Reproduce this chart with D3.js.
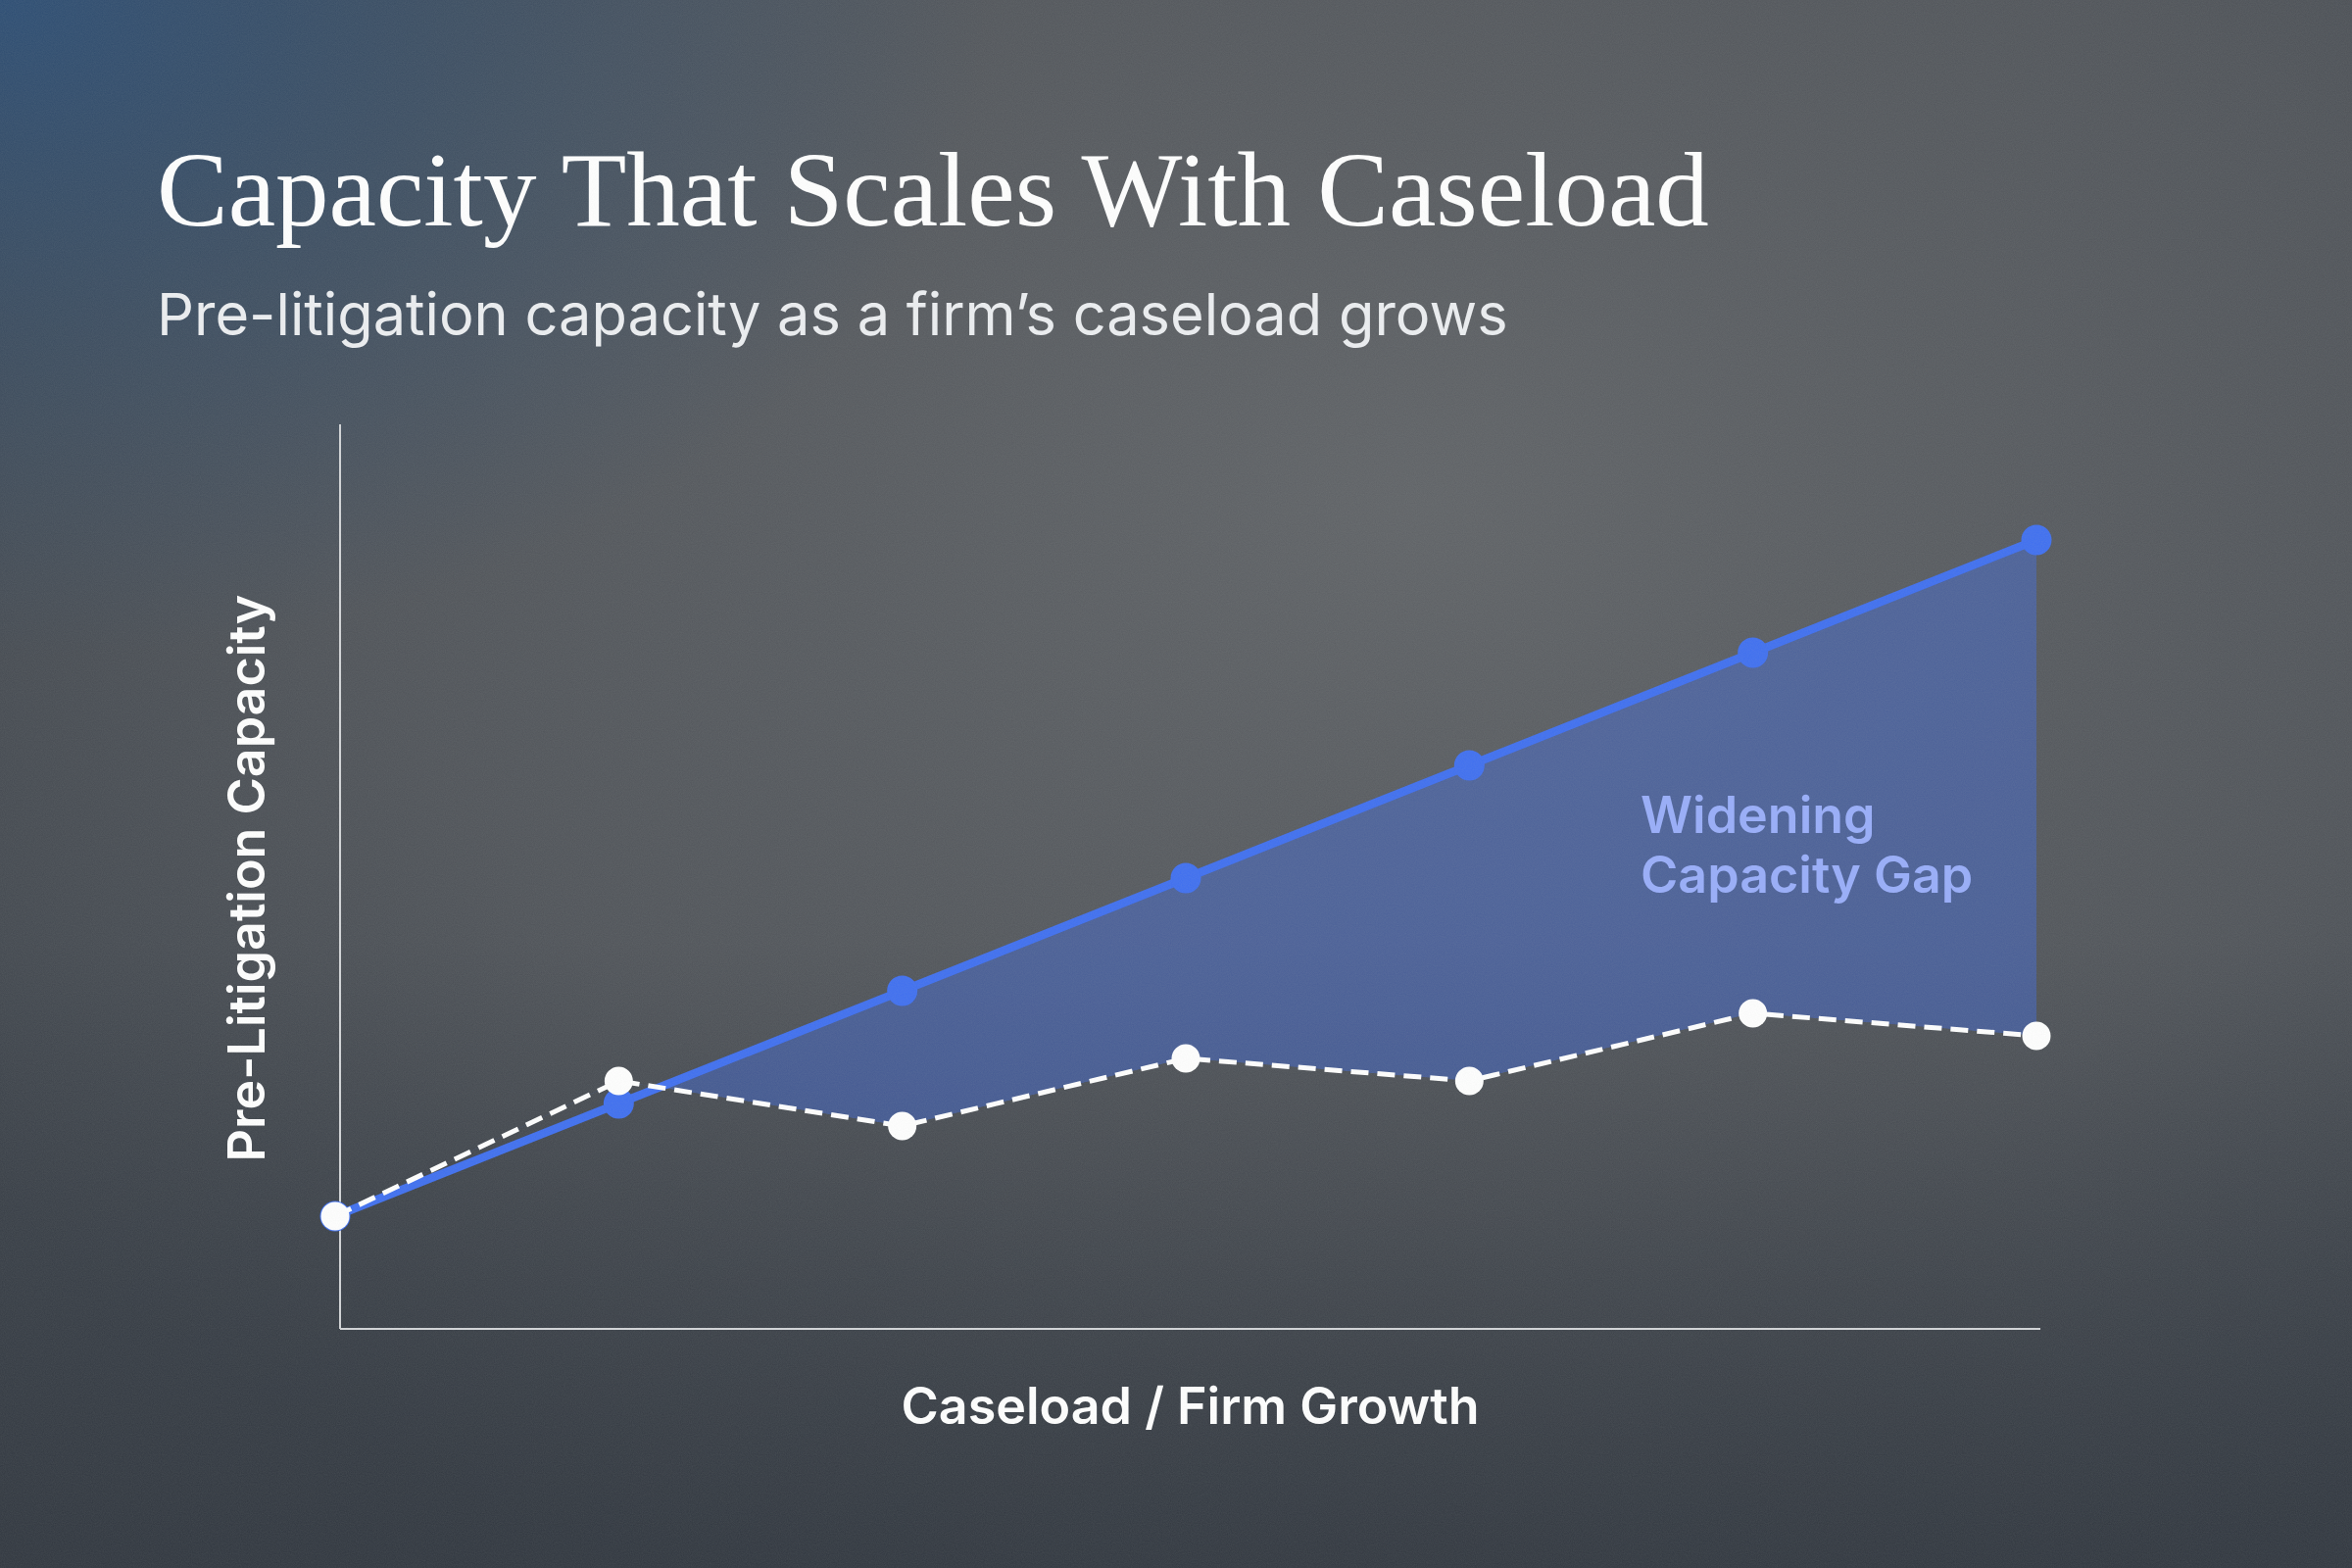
<!DOCTYPE html>
<html>
<head>
<meta charset="utf-8">
<script src="https://cdn.jsdelivr.net/npm/d3@7"></script>
<style>
  body { margin:0; background:#3a414b; }
  svg { display:block; }
</style>
</head>
<body>
<script>
// data (capacity in arbitrary units)
const growthStages = [0, 1, 2, 3, 4, 5, 6];
const scaledCapacity = [10, 20, 30, 40, 50, 60, 70];       // blue line
const traditionalCapacity = [10, 22, 18, 24, 22, 28, 26];  // white dashed line
const yDomain = [0, 80];

const titleText = 'Capacity That Scales With Caseload';
const subtitleText = 'Pre-litigation capacity as a firm\u2019s caseload grows';
const xLabel = 'Caseload / Firm Growth';
const yLabel = 'Pre-Litigation Capacity';
const gapLabel = ['Widening', 'Capacity Gap'];

const W = 2400, H = 1600;
const blue = '#3f6ff0';

const svg = d3.select('body')
    .append('svg')
    .attr('width', W)
    .attr('height', H);

const defs = svg.append('defs');

// background gradients
const glow = defs.append('radialGradient').attr('id', 'glow')
    .attr('cx', 0.6).attr('cy', 0.32).attr('r', 0.75);
glow.append('stop').attr('offset', 0).attr('stop-color', '#606367').attr('stop-opacity', 1);
glow.append('stop').attr('offset', 0.6).attr('stop-color', '#56595e').attr('stop-opacity', 0.75);
glow.append('stop').attr('offset', 1).attr('stop-color', '#56595e').attr('stop-opacity', 0);

const tint = defs.append('radialGradient').attr('id', 'tint')
    .attr('cx', 0.0).attr('cy', 0.0).attr('r', 0.42);
tint.append('stop').attr('offset', 0).attr('stop-color', '#2c4e76').attr('stop-opacity', 0.95);
tint.append('stop').attr('offset', 0.5).attr('stop-color', '#2f4c6c').attr('stop-opacity', 0.5);
tint.append('stop').attr('offset', 1).attr('stop-color', '#2f4c6c').attr('stop-opacity', 0);

const shade = defs.append('linearGradient').attr('id', 'shade')
    .attr('x1', 0).attr('y1', 0).attr('x2', 0).attr('y2', 1);
shade.append('stop').attr('offset', 0.6).attr('stop-color', '#2b313a').attr('stop-opacity', 0);
shade.append('stop').attr('offset', 1).attr('stop-color', '#2b313a').attr('stop-opacity', 0.7);

// film grain
const grain = defs.append('filter').attr('id', 'grain');
grain.append('feTurbulence').attr('type', 'fractalNoise')
    .attr('baseFrequency', 0.9).attr('numOctaves', 2).attr('seed', 3);
grain.append('feColorMatrix').attr('type', 'matrix')
    .attr('values', '0 0 0 0 0.5  0 0 0 0 0.55  0 0 0 0 0.5  0 0 0 0.12 0');

svg.append('rect').attr('width', W).attr('height', H).attr('fill', '#3e444c');
svg.append('rect').attr('width', W).attr('height', H).attr('fill', 'url(#glow)');
svg.append('rect').attr('width', W).attr('height', H).attr('fill', 'url(#tint)');
svg.append('rect').attr('width', W).attr('height', H).attr('fill', 'url(#shade)');

// titles
svg.append('text')
    .attr('x', 160).attr('y', 230)
    .attr('font-family', '"Liberation Serif", serif')
    .attr('font-size', 109)
    .attr('fill', '#ffffff')
    .text(titleText);

svg.append('text')
    .attr('x', 160).attr('y', 342)
    .attr('font-family', 'Inter, sans-serif')
    .attr('font-size', 59.5)
    .attr('fill', '#eceef1')
    .text(subtitleText);

// scales
const x = d3.scalePoint()
    .domain(growthStages)
    .range([342, 2078]);

const y = d3.scaleLinear()
    .domain(yDomain)
    .range([1356, 436]);

const axisLeftX = 347, axisRightX = 2082;

const data = growthStages.map((s, i) => ({
    stage: s,
    scaled: scaledCapacity[i],
    trad: traditionalCapacity[i]
}));

// clip: only the part above the dashed line (where the blue is higher)
defs.append('clipPath').attr('id', 'aboveTrad')
    .append('path')
    .attr('d', d3.area()
        .x(d => x(d.stage))
        .y0(d => y(d.trad))
        .y1(0)(data));

// gap area
svg.append('path')
    .datum(data)
    .attr('clip-path', 'url(#aboveTrad)')
    .attr('fill', blue)
    .attr('fill-opacity', 0.4)
    .attr('d', d3.area()
        .x(d => x(d.stage))
        .y0(d => y(d.trad))
        .y1(d => y(d.scaled)));

// axes (plain lines, no ticks)
svg.append('line')
    .attr('x1', axisLeftX).attr('x2', axisLeftX)
    .attr('y1', y(yDomain[1]) - 3).attr('y2', y(0))
    .attr('stroke', '#d2d4d7').attr('stroke-width', 2);
svg.append('line')
    .attr('x1', axisLeftX).attr('x2', axisRightX)
    .attr('y1', y(0)).attr('y2', y(0))
    .attr('stroke', '#d2d4d7').attr('stroke-width', 2);

// blue line + dots
svg.append('path')
    .datum(data)
    .attr('fill', 'none')
    .attr('stroke', blue)
    .attr('stroke-width', 8.5)
    .attr('stroke-linejoin', 'round')
    .attr('d', d3.line().x(d => x(d.stage)).y(d => y(d.scaled)));

svg.selectAll('.dot-scaled')
    .data(data)
    .enter().append('circle')
    .attr('class', 'dot-scaled')
    .attr('cx', d => x(d.stage))
    .attr('cy', d => y(d.scaled))
    .attr('r', 15.5)
    .attr('fill', blue);

// white dashed line + dots
svg.append('path')
    .datum(data)
    .attr('fill', 'none')
    .attr('stroke', '#ffffff')
    .attr('stroke-width', 5)
    .attr('stroke-dasharray', '18,9')
    .attr('d', d3.line().x(d => x(d.stage)).y(d => y(d.trad)));

svg.selectAll('.dot-trad')
    .data(data)
    .enter().append('circle')
    .attr('class', 'dot-trad')
    .attr('cx', d => x(d.stage))
    .attr('cy', d => y(d.trad))
    .attr('r', 14.5)
    .attr('fill', '#ffffff');

// annotation
const gap = svg.append('text')
    .attr('font-family', 'Inter, sans-serif')
    .attr('font-weight', 600)
    .attr('font-size', 52)
    .attr('fill', '#98adfa');
gap.selectAll('tspan')
    .data(gapLabel)
    .enter().append('tspan')
    .attr('x', 1674)
    .attr('y', (d, i) => 850 + i * 61)
    .text(d => d);

// axis labels
svg.append('text')
    .attr('x', (axisLeftX + axisRightX) / 2)
    .attr('y', 1453)
    .attr('text-anchor', 'middle')
    .attr('font-family', 'Inter, sans-serif')
    .attr('font-weight', 600)
    .attr('font-size', 52)
    .attr('fill', '#ffffff')
    .text(xLabel);

svg.append('text')
    .attr('transform', `translate(270, ${(y(0) + y(yDomain[1])) / 2}) rotate(-90)`)
    .attr('text-anchor', 'middle')
    .attr('font-family', 'Inter, sans-serif')
    .attr('font-weight', 600)
    .attr('font-size', 52)
    .attr('fill', '#ffffff')
    .text(yLabel);

// grain on top of everything
svg.append('rect').attr('width', W).attr('height', H)
    .attr('filter', 'url(#grain)')
    .attr('pointer-events', 'none');
</script>
</body>
</html>
